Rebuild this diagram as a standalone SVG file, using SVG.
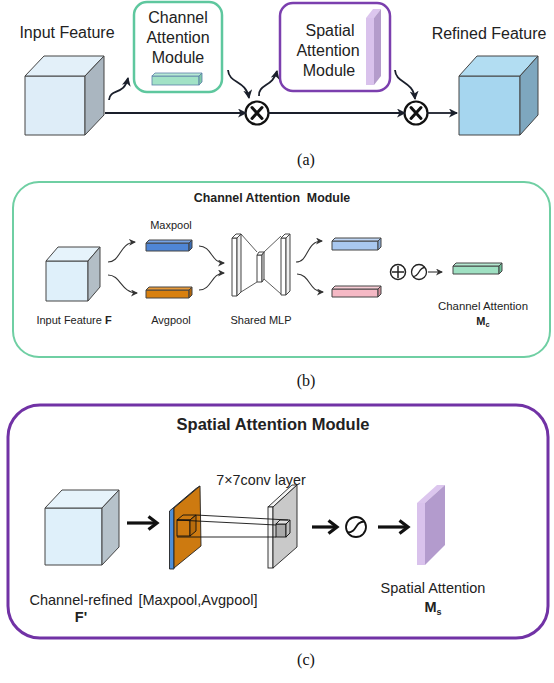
<svg xmlns="http://www.w3.org/2000/svg" width="554" height="683" viewBox="0 0 554 683">
<defs>
<style>
.t{font-family:"Liberation Sans",Arial,sans-serif;fill:#222;text-anchor:middle}
.lbl{font-family:"Liberation Serif","Times New Roman",serif;font-size:16px;fill:#111;text-anchor:middle}
.edge{stroke:#444;stroke-width:1;stroke-linejoin:round}
.conn{fill:none;stroke:#1a1f2b;stroke-width:1.8}
.thin{fill:none;stroke:#333;stroke-width:1.1}
.thick{fill:none;stroke:#111;stroke-width:3.2}
</style>
<marker id="ah" markerUnits="userSpaceOnUse" markerWidth="10" markerHeight="10" refX="8" refY="4.5" orient="auto">
<path d="M0,0 L9,4.5 L0,9 L2.5,4.5 z" fill="#1a1f2b"/>
</marker>
<marker id="ahs" markerUnits="userSpaceOnUse" markerWidth="8" markerHeight="8" refX="6" refY="3.5" orient="auto">
<path d="M0,0 L7,3.5 L0,7 L2,3.5 z" fill="#333"/>
</marker>
<marker id="ahc" markerUnits="userSpaceOnUse" markerWidth="14" markerHeight="16" refX="10" refY="8" orient="auto">
<path d="M1.5,1.5 L10,8 L1.5,14.5" fill="none" stroke="#111" stroke-width="3.2" stroke-linejoin="miter"/>
</marker>
</defs>
<rect width="554" height="683" fill="#fff"/>

<!-- ===== Panel (a) ===== -->
<g id="a-input">
<text class="t" x="67" y="38" font-size="16">Input Feature</text>
<rect x="25" y="76" width="60" height="59" fill="#deedf8" class="edge"/>
<polygon points="25,76 44,56 104,56 85,76" fill="#e3f0f9" class="edge"/>
<polygon points="85,76 104,56 104,115 85,135" fill="#aab6c0" class="edge"/>
</g>
<g id="a-cam">
<rect x="134" y="2" width="88" height="90" rx="13" fill="#fff" stroke="#5ec79e" stroke-width="2.5"/>
<text class="t" x="178" y="23" font-size="16">Channel</text>
<text class="t" x="178" y="43" font-size="16">Attention</text>
<text class="t" x="178" y="63" font-size="16">Module</text>
<rect x="152" y="76" width="47" height="9" fill="#a2e2c6" stroke="#5b7fa8" stroke-width="0.8"/>
<polygon points="152,76 155,73 202,73 199,76" fill="#b8ead4" stroke="#5b7fa8" stroke-width="0.8"/>
<polygon points="199,76 202,73 202,82 199,85" fill="#7fc9a8" stroke="#5b7fa8" stroke-width="0.8"/>
</g>
<g id="a-sam">
<rect x="280" y="3" width="110" height="88" rx="13" fill="#fff" stroke="#7b3fae" stroke-width="2.5"/>
<text class="t" x="330" y="36" font-size="16">Spatial</text>
<text class="t" x="328" y="56" font-size="16">Attention</text>
<text class="t" x="329" y="76" font-size="16">Module</text>
<polygon points="366,18 373,9 381,9 374,18" fill="#dcc6ee"/>
<rect x="366" y="18" width="8" height="67" fill="#d9c2ec"/>
<polygon points="374,18 381,9 381,76 374,85" fill="#b49ccb"/>
</g>
<g id="a-mul1">
<circle cx="257" cy="113" r="11.5" fill="#fff" stroke="#111" stroke-width="2.2"/>
<path d="M252,107.5 L262,118.5 M262,107.5 L252,118.5" stroke="#111" stroke-width="3" stroke-linecap="round"/>
</g>
<g id="a-mul2">
<circle cx="416" cy="113" r="11.5" fill="#fff" stroke="#111" stroke-width="2.2"/>
<path d="M411,107.5 L421,118.5 M421,107.5 L411,118.5" stroke="#111" stroke-width="3" stroke-linecap="round"/>
</g>
<g id="a-refined">
<text class="t" x="489" y="39" font-size="16">Refined Feature</text>
<rect x="459" y="76" width="61" height="59" fill="#a6d6ef" class="edge"/>
<polygon points="459,76 477,56 538,56 520,76" fill="#b2ddf2" class="edge"/>
<polygon points="520,76 538,56 538,115 520,135" fill="#7ea7bf" class="edge"/>
</g>
<text class="lbl" x="306" y="165">(a)</text>

<!-- ===== Panel (b) ===== -->
<g id="b-frame">
<rect x="13" y="182" width="537" height="175" rx="26" fill="#fff" stroke="#6fcfa3" stroke-width="2"/>
<text class="t" x="272" y="202" font-size="12.4" font-weight="bold" xml:space="preserve">Channel Attention  Module</text>
</g>
<g id="b-input">
<rect x="46" y="261" width="42" height="40" fill="#dff0fa" class="edge" stroke-width="0.8"/>
<polygon points="46,261 58,247 100,247 88,261" fill="#e6f3fb" class="edge" stroke-width="0.8"/>
<polygon points="88,261 100,247 100,287 88,301" fill="#b3bec6" class="edge" stroke-width="0.8"/>
<text class="t" x="74" y="324" font-size="11">Input Feature <tspan font-weight="bold">F</tspan></text>
</g>
<g id="b-maxpool">
<text class="t" x="171" y="229" font-size="11">Maxpool</text>
<rect x="146" y="243" width="43" height="8" fill="#4f86d6" class="edge" stroke-width="0.8"/>
<polygon points="146,243 149,240 192,240 189,243" fill="#74a2e6" class="edge" stroke-width="0.8"/>
<polygon points="189,243 192,240 192,248 189,251" fill="#3a6cb4" class="edge" stroke-width="0.8"/>
</g>
<g id="b-avgpool">
<rect x="146" y="290" width="43" height="8" fill="#d8800f" class="edge" stroke-width="0.8"/>
<polygon points="146,290 149,287 192,287 189,290" fill="#e89a3a" class="edge" stroke-width="0.8"/>
<polygon points="189,290 192,287 192,295 189,298" fill="#b0650a" class="edge" stroke-width="0.8"/>
<text class="t" x="171" y="324" font-size="11">Avgpool</text>
</g>
<g id="b-mlp">
<rect x="232" y="238" width="5" height="58" fill="#fff" class="edge" stroke-width="0.8"/>
<polygon points="232,238 236,234 241,234 237,238" fill="#fff" class="edge" stroke-width="0.8"/>
<polygon points="237,238 241,234 241,292 237,296" fill="#f0f0f0" class="edge" stroke-width="0.8"/>
<rect x="257" y="255" width="5" height="27" fill="#fff" class="edge" stroke-width="0.8"/>
<polygon points="257,255 259,252 264,252 262,255" fill="#fff" class="edge" stroke-width="0.8"/>
<polygon points="262,255 264,252 264,279 262,282" fill="#f0f0f0" class="edge" stroke-width="0.8"/>
<rect x="281" y="238" width="5" height="57" fill="#fff" class="edge" stroke-width="0.8"/>
<polygon points="281,238 285,234 290,234 286,238" fill="#fff" class="edge" stroke-width="0.8"/>
<polygon points="286,238 290,234 290,291 286,295" fill="#f0f0f0" class="edge" stroke-width="0.8"/>
<path d="M241,234 L257,252 M241,292 L257,282 M264,252 L281,236 M264,279 L281,294" stroke="#333" stroke-width="0.8" fill="none"/>
<text class="t" x="261" y="324" font-size="11">Shared MLP</text>
</g>
<g id="b-out-max">
<rect x="332" y="241" width="46" height="9" fill="#a9c8f0" class="edge" stroke-width="0.8"/>
<polygon points="332,241 335,238 381,238 378,241" fill="#bfd6f5" class="edge" stroke-width="0.8"/>
<polygon points="378,241 381,238 381,247 378,250" fill="#86a8d4" class="edge" stroke-width="0.8"/>
</g>
<g id="b-out-avg">
<rect x="332" y="289" width="46" height="8" fill="#f5b9c5" class="edge" stroke-width="0.8"/>
<polygon points="332,289 335,286 381,286 378,289" fill="#f8ccd5" class="edge" stroke-width="0.8"/>
<polygon points="378,289 381,286 381,294 378,297" fill="#d4929e" class="edge" stroke-width="0.8"/>
</g>
<g id="b-sum">
<circle cx="398" cy="272" r="7.5" fill="#fff" stroke="#222" stroke-width="1.5"/>
<path d="M398,266 L398,278 M392,272 L404,272" stroke="#222" stroke-width="1.5"/>
</g>
<g id="b-sigmoid">
<circle cx="419" cy="272" r="7.5" fill="#fff" stroke="#222" stroke-width="1.3"/>
<path d="M413,276.5 C420,276.5 418,267.5 425,267.5" fill="none" stroke="#222" stroke-width="1.3"/>
</g>
<g id="b-mc">
<rect x="453" y="266" width="46" height="8" fill="#9fe0c2" class="edge" stroke-width="0.8"/>
<polygon points="453,266 456,263 502,263 499,266" fill="#b5e9d1" class="edge" stroke-width="0.8"/>
<polygon points="499,266 502,263 502,271 499,274" fill="#6fbf9a" class="edge" stroke-width="0.8"/>
<text class="t" x="483" y="310" font-size="11.4">Channel Attention</text>
<text class="t" x="483" y="325" font-size="11" font-weight="bold">M<tspan font-size="7.5" dy="2">c</tspan></text>
</g>
<text class="lbl" x="306" y="386">(b)</text>

<!-- ===== Panel (c) ===== -->
<g id="c-frame">
<rect x="8" y="405" width="540" height="233" rx="32" fill="#fff" stroke="#7132a5" stroke-width="3"/>
<text class="t" x="273" y="430" font-size="16.5" font-weight="bold">Spatial Attention Module</text>
</g>
<g id="c-input">
<rect x="45" y="508" width="57" height="57" fill="#dff0fa" class="edge"/>
<polygon points="45,508 62,490 119,490 102,508" fill="#e6f3fb" class="edge"/>
<polygon points="102,508 119,490 119,547 102,565" fill="#b6c2ca" class="edge"/>
<text class="t" x="81" y="605" font-size="14.5">Channel-refined</text>
<text class="t" x="81" y="622" font-size="14.5" font-weight="bold">F'</text>
</g>
<g id="c-pool">
<polygon points="169.5,511 196,488.5 200,486 174,508 174,569 169.5,569" fill="#4f8fd8" stroke="#222" stroke-width="0.9"/>
<polygon points="174,508 200,486 201,546 174,568" fill="#cd7a10" stroke="#222" stroke-width="0.9"/>
<rect x="177" y="520" width="13" height="16" fill="none" stroke="#111" stroke-width="0.9"/>
<polygon points="177,520 183,515 196,515 190,520" fill="none" stroke="#111" stroke-width="0.9"/>
<polygon points="190,520 196,515 196,531 190,536" fill="#b86c0c" stroke="#111" stroke-width="0.9"/>
<text class="t" x="198" y="605" font-size="14.5">[Maxpool,Avgpool]</text>
</g>
<g id="c-conv">
<text class="t" x="261" y="485" font-size="14.3">7×7conv layer</text>
<polygon points="268,507 292,485 297,485 273,507" fill="#f4f4f4" stroke="#222" stroke-width="0.9"/>
<rect x="268" y="507" width="5" height="61" fill="#f4f4f4" stroke="#222" stroke-width="0.9"/>
<polygon points="273,507 297,485 297,547 273,568" fill="#c9c9c9" stroke="#222" stroke-width="0.9"/>
<rect x="276" y="524" width="10" height="13" fill="#a9a9a9" stroke="#111" stroke-width="0.9"/>
<polygon points="276,524 280,520 290,520 286,524" fill="#e0e0e0" stroke="#111" stroke-width="0.9"/>
<polygon points="286,524 290,520 290,533 286,537" fill="#bdbdbd" stroke="#111" stroke-width="0.9"/>
</g>
<g id="c-sigmoid">
<circle cx="356" cy="527" r="10" fill="#fff" stroke="#111" stroke-width="1.8"/>
<path d="M347.5,532.5 C357.5,532.5 354.5,521.5 364.5,521.5" fill="none" stroke="#111" stroke-width="1.8"/>
</g>
<g id="c-ms">
<polygon points="417,503 437,485 445,485 425,503" fill="#dcc6ee"/>
<rect x="417" y="503" width="8" height="62" fill="#d9c2ec"/>
<polygon points="425,503 445,485 445,545 425,565" fill="#b39bcd"/>
<text class="t" x="433" y="593" font-size="14.5">Spatial Attention</text>
<text class="t" x="433" y="612" font-size="14.5" font-weight="bold">M<tspan font-size="9" dy="2.5">s</tspan></text>
</g>
<text class="lbl" x="306" y="665">(c)</text>

<!-- ===== Connectors ===== -->
<g id="connectors">
<path class="conn" d="M105,113 L246,113" marker-end="url(#ah)"/>
<path class="conn" d="M268.5,113 L405,113" marker-end="url(#ah)"/>
<path class="conn" d="M427.5,113 L457,113" marker-end="url(#ah)"/>
<path class="conn" d="M109,100 C110,88 124,96 128,78" marker-end="url(#ah)"/>
<path class="conn" d="M228,70 C229,84 246,80 249,98" marker-end="url(#ah)"/>
<path class="conn" d="M259,96 C258,84 273,87 277,71" marker-end="url(#ah)"/>
<path class="conn" d="M395,70 C396,84 413,80 415,99" marker-end="url(#ah)"/>

<path class="thin" d="M108,262 C121,262 119,243 135,242" marker-end="url(#ahs)"/>
<path class="thin" d="M108,275 C121,275 121,293 137,293" marker-end="url(#ahs)"/>
<path class="thin" d="M199,246 C212,246 211,263 224,263" marker-end="url(#ahs)"/>
<path class="thin" d="M199,290 C212,290 211,273 224,273" marker-end="url(#ahs)"/>
<path class="thin" d="M296,262 C309,262 306,241 322,241" marker-end="url(#ahs)"/>
<path class="thin" d="M297,274 C310,274 309,292 323,292" marker-end="url(#ahs)"/>
<path class="thin" d="M428,272 L442,272" marker-end="url(#ahs)"/>

<path d="M177,520 L276,525 M196,515 L288,520 M177,537 L276,537" stroke="#111" stroke-width="0.9" fill="none"/>
<path class="thick" d="M127,523 L157,523" marker-end="url(#ahc)"/>
<path class="thick" d="M312,527 L337,527" marker-end="url(#ahc)"/>
<path class="thick" d="M378,527 L408,527" marker-end="url(#ahc)"/>
</g>
</svg>
